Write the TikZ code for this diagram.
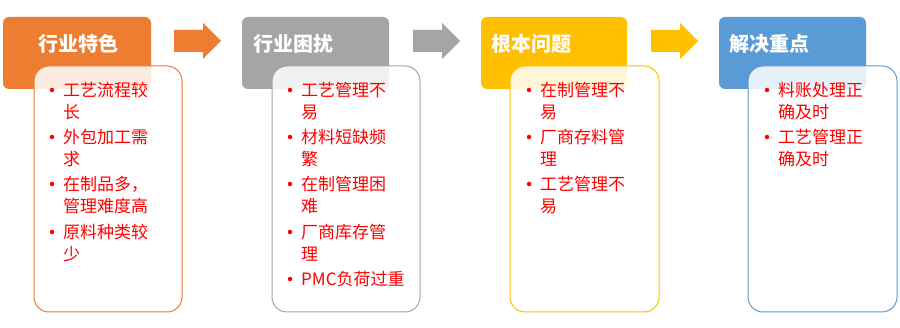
\documentclass[tikz,border=0pt]{standalone}
\usepackage{fontspec}
\setmainfont{Noto Sans CJK SC}
\definecolor{corange}{HTML}{ED7D31}
\definecolor{cgray}{HTML}{A5A5A5}
\definecolor{cgold}{HTML}{FFC000}
\definecolor{cblue}{HTML}{5B9BD5}
\definecolor{cred}{HTML}{FF0000}
\tikzset{
  hdr/.style={rounded corners=6pt},
  bodybox/.style={rounded corners=15pt, fill=white, fill opacity=0.85, line width=1pt},
  hdrtext/.style={anchor=west, text=white, font=\fontsize{20}{22}\selectfont\bfseries, inner sep=0pt},
  item/.style={anchor=west, text=cred, font=\fontsize{17}{18}\selectfont, inner sep=0pt},
  dot/.style={circle, fill=cred, inner sep=0pt, minimum size=4.5pt},
}
\newcommand{\barrow}[2]{% x0, colour
  \fill[#2] (#1,30) -- ++(29,0) -- ++(0,-7) -- ++(18,18) -- ++(-18,18) -- ++(0,-7) -- ++(-29,0) -- cycle;
}
\begin{document}
\begin{tikzpicture}[x=1pt,y=-1pt]
\useasboundingbox (0,0) rectangle (900,328);
\fill[white] (0,0) rectangle (900,328);

% headers
\fill[corange,hdr] (3,17) rectangle (151,89);
\fill[cgray,hdr] (242,17) rectangle (389,89);
\fill[cgold,hdr] (481,17) rectangle (627,89);
\fill[cblue,hdr] (719,17) rectangle (866,89);
\node[hdrtext] (h1) at (38,44) {行业特色};
\node[hdrtext] (h2) at (253,44) {行业困扰};
\node[hdrtext] (h3) at (491,44) {根本问题};
\node[hdrtext] (h4) at (729,44) {解决重点};

% arrows
\barrow{174}{corange}
\barrow{413}{cgray}
\barrow{651}{cgold}

% bodies
\draw[bodybox, draw=corange] (34,66) rectangle (182,312);
\draw[bodybox, draw=cgray] (272,66) rectangle (420,312);
\draw[bodybox, draw=cgold] (510,66) rectangle (659,312);
\draw[bodybox, draw=cblue] (748,66) rectangle (897,312);

% group 1 items
\node[dot] at (52,90) {};
\node[item] at (63,90) {工艺流程较};
\node[item] at (63,112) {长};
\node[dot] at (52,137) {};
\node[item] at (63,137) {外包加工需};
\node[item] at (63,159) {求};
\node[dot] at (52,184) {};
\node[item] at (63,184) {在制品多，};
\node[item] at (63,206) {管理难度高};
\node[dot] at (52,232) {};
\node[item] at (63,232) {原料种类较};
\node[item] at (63,254) {少};

% group 2 items
\node[dot] at (290,90) {};
\node[item] at (301,90) {工艺管理不};
\node[item] at (301,112) {易};
\node[dot] at (290,137) {};
\node[item] at (301,137) {材料短缺频};
\node[item] at (301,159) {繁};
\node[dot] at (290,184) {};
\node[item] at (301,184) {在制管理困};
\node[item] at (301,206) {难};
\node[dot] at (290,232) {};
\node[item] at (301,232) {厂商库存管};
\node[item] at (301,254) {理};
\node[dot] at (290,279) {};
\node[item] at (301,279) {PMC负荷过重};

% group 3 items
\node[dot] at (529,90) {};
\node[item] at (540,90) {在制管理不};
\node[item] at (540,112) {易};
\node[dot] at (529,137) {};
\node[item] at (540,137) {厂商存料管};
\node[item] at (540,159) {理};
\node[dot] at (529,184) {};
\node[item] at (540,184) {工艺管理不};
\node[item] at (540,206) {易};

% group 4 items
\node[dot] at (767,90) {};
\node[item] at (778,90) {料账处理正};
\node[item] at (778,112) {确及时};
\node[dot] at (767,137) {};
\node[item] at (778,137) {工艺管理正};
\node[item] at (778,159) {确及时};
\end{tikzpicture}
\end{document}
